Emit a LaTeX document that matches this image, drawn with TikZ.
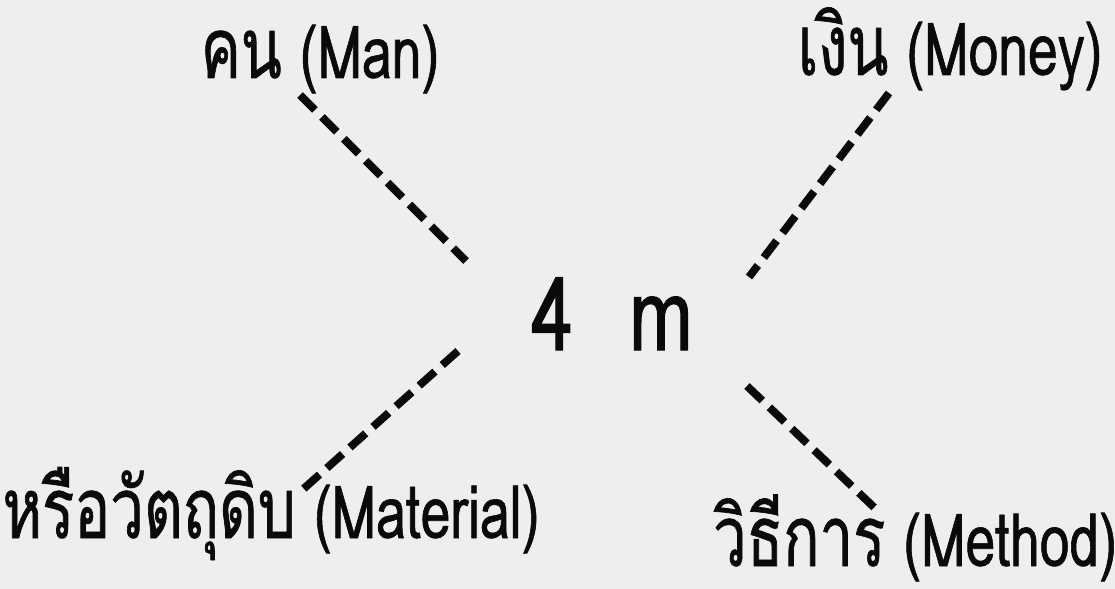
\documentclass[tikz,border=0pt]{standalone}
\usepackage{fontspec}
\setmainfont{Loma}[Script=Thai,FakeStretch=0.73,FakeBold=0.8]
\newfontfamily\thaifont{Loma}[Script=Thai,FakeStretch=0.71,FakeBold=0.8]
\newfontfamily\hubfont{Loma}[Script=Thai,FakeStretch=0.75,FakeBold=1]
\usepackage{tikz}
\usetikzlibrary{positioning}
\definecolor{paper}{HTML}{EFEEEC}
\definecolor{ink}{HTML}{0A0A0A}
\tikzset{
  every node/.style={text=ink,inner sep=0pt},
  mlabel/.style={anchor=base,text depth=0pt,font=\fontsize{52}{58}\selectfont},
  hub/.style={anchor=base,font=\hubfont\fontsize{72}{78}\selectfont},
  spoke/.style={draw=ink,line width=5.6pt,dash pattern=on 15pt off 7pt},
}
\newcommand{\thaiword}[1]{{\thaifont\fontsize{60}{66}\selectfont #1}}

\begin{document}
\begin{tikzpicture}[x=0.025cm,y=-0.025cm]

\fill[paper] (0,0) rectangle (1115,589);
\useasboundingbox (0,0) rectangle (1115,589);

\node[hub] (hub) at (612,350) {4\hspace{0.55em}m};

\node[mlabel] (man) at (320,78) {\thaiword{คน} (Man)};
\node[mlabel] (money) at (950,75) {\thaiword{เงิน} (Money)};
\node[mlabel] (material) at (271,538) {\thaiword{หรือวัตถุดิบ} (Material)};
\node[mlabel] (method) at (915,566) {\thaiword{วิธีการ} (Method)};

\coordinate (mana) at (300,95);   \coordinate (manb) at (466,261);
\coordinate (moneya) at (889,93); \coordinate (moneyb) at (749,277);
\coordinate (mata) at (458,351);  \coordinate (matb) at (300,492);
\coordinate (metha) at (747,386); \coordinate (methb) at (881,514);

\draw[spoke] (mana) -- (manb);
\draw[spoke] (moneya) -- (moneyb);
\draw[spoke] (mata) -- (matb);
\draw[spoke] (metha) -- (methb);

\end{tikzpicture}
\end{document}
